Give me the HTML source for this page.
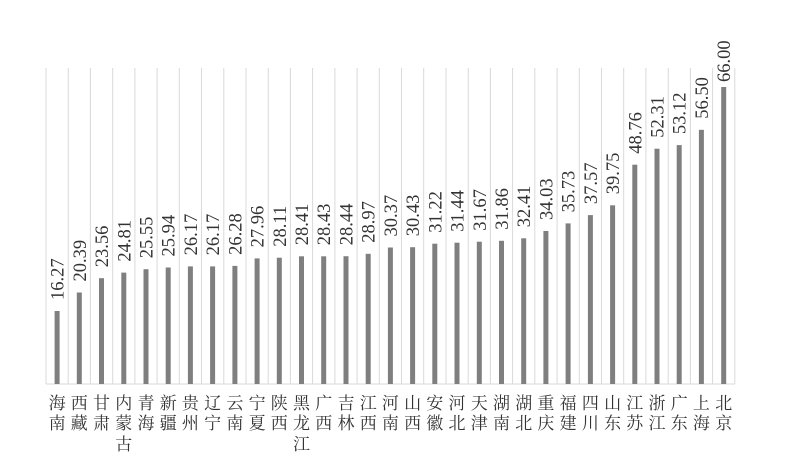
<!DOCTYPE html>
<html><head><meta charset="utf-8"><style>
html,body{margin:0;padding:0;background:#fff;width:785px;height:469px;overflow:hidden}
svg text{font-family:"Liberation Serif","Noto Serif CJK SC",serif;fill:#333}
text.v{font-size:18.5px}
text.c{font-size:17px;text-anchor:middle;font-family:"Liberation Serif","Noto Serif CJK SC","Noto Sans CJK SC",serif}
</style></head><body>
<svg width="785" height="469" xmlns="http://www.w3.org/2000/svg">
<g stroke="#d9d9d9" stroke-width="1">
<line x1="46" y1="68" x2="46" y2="384"/><line x1="68.2" y1="68" x2="68.2" y2="384"/><line x1="90.4" y1="68" x2="90.4" y2="384"/><line x1="112.7" y1="68" x2="112.7" y2="384"/><line x1="134.9" y1="68" x2="134.9" y2="384"/><line x1="157.1" y1="68" x2="157.1" y2="384"/><line x1="179.3" y1="68" x2="179.3" y2="384"/><line x1="201.5" y1="68" x2="201.5" y2="384"/><line x1="223.8" y1="68" x2="223.8" y2="384"/><line x1="246" y1="68" x2="246" y2="384"/><line x1="268.2" y1="68" x2="268.2" y2="384"/><line x1="290.4" y1="68" x2="290.4" y2="384"/><line x1="312.6" y1="68" x2="312.6" y2="384"/><line x1="334.9" y1="68" x2="334.9" y2="384"/><line x1="357.1" y1="68" x2="357.1" y2="384"/><line x1="379.3" y1="68" x2="379.3" y2="384"/><line x1="401.5" y1="68" x2="401.5" y2="384"/><line x1="423.7" y1="68" x2="423.7" y2="384"/><line x1="446" y1="68" x2="446" y2="384"/><line x1="468.2" y1="68" x2="468.2" y2="384"/><line x1="490.4" y1="68" x2="490.4" y2="384"/><line x1="512.6" y1="68" x2="512.6" y2="384"/><line x1="534.8" y1="68" x2="534.8" y2="384"/><line x1="557.1" y1="68" x2="557.1" y2="384"/><line x1="579.3" y1="68" x2="579.3" y2="384"/><line x1="601.5" y1="68" x2="601.5" y2="384"/><line x1="623.7" y1="68" x2="623.7" y2="384"/><line x1="645.9" y1="68" x2="645.9" y2="384"/><line x1="668.2" y1="68" x2="668.2" y2="384"/><line x1="690.4" y1="68" x2="690.4" y2="384"/><line x1="712.6" y1="68" x2="712.6" y2="384"/><line x1="734.8" y1="68" x2="734.8" y2="384"/>
<line x1="46" y1="384" x2="735" y2="384"/>
</g>
<g fill="#7f7f7f">
<rect x="54.6" y="311" width="5" height="73"/><rect x="76.8" y="292.5" width="5" height="91.5"/><rect x="99" y="278.2" width="5" height="105.8"/><rect x="121.3" y="272.6" width="5" height="111.4"/><rect x="143.5" y="269.2" width="5" height="114.8"/><rect x="165.7" y="267.5" width="5" height="116.5"/><rect x="187.9" y="266.4" width="5" height="117.6"/><rect x="210.1" y="266.4" width="5" height="117.6"/><rect x="232.4" y="265.9" width="5" height="118.1"/><rect x="254.6" y="258.4" width="5" height="125.6"/><rect x="276.8" y="257.7" width="5" height="126.3"/><rect x="299" y="256.3" width="5" height="127.7"/><rect x="321.2" y="256.3" width="5" height="127.7"/><rect x="343.5" y="256.2" width="5" height="127.8"/><rect x="365.7" y="253.8" width="5" height="130.2"/><rect x="387.9" y="247.5" width="5" height="136.5"/><rect x="410.1" y="247.2" width="5" height="136.8"/><rect x="432.3" y="243.7" width="5" height="140.3"/><rect x="454.5" y="242.7" width="5" height="141.3"/><rect x="476.8" y="241.7" width="5" height="142.3"/><rect x="499" y="240.8" width="5" height="143.2"/><rect x="521.2" y="238.3" width="5" height="145.7"/><rect x="543.4" y="231" width="5" height="153"/><rect x="565.6" y="223.4" width="5" height="160.6"/><rect x="587.9" y="215.1" width="5" height="168.9"/><rect x="610.1" y="205.3" width="5" height="178.7"/><rect x="632.3" y="164.7" width="5" height="219.3"/><rect x="654.5" y="148.7" width="5" height="235.3"/><rect x="676.7" y="145.1" width="5" height="238.9"/><rect x="698.9" y="129.8" width="5" height="254.2"/><rect x="721.2" y="87" width="5" height="297"/>
</g>
<g>
<text class="v" transform="translate(63.6,300) rotate(-90)">16.27</text>
<text class="v" transform="translate(85.8,281.5) rotate(-90)">20.39</text>
<text class="v" transform="translate(108,267.2) rotate(-90)">23.56</text>
<text class="v" transform="translate(130.3,261.6) rotate(-90)">24.81</text>
<text class="v" transform="translate(152.5,258.2) rotate(-90)">25.55</text>
<text class="v" transform="translate(174.7,256.5) rotate(-90)">25.94</text>
<text class="v" transform="translate(196.9,255.4) rotate(-90)">26.17</text>
<text class="v" transform="translate(219.1,255.4) rotate(-90)">26.17</text>
<text class="v" transform="translate(241.4,254.9) rotate(-90)">26.28</text>
<text class="v" transform="translate(263.6,247.4) rotate(-90)">27.96</text>
<text class="v" transform="translate(285.8,246.7) rotate(-90)">28.11</text>
<text class="v" transform="translate(308,245.3) rotate(-90)">28.41</text>
<text class="v" transform="translate(330.2,245.3) rotate(-90)">28.43</text>
<text class="v" transform="translate(352.5,245.2) rotate(-90)">28.44</text>
<text class="v" transform="translate(374.7,242.8) rotate(-90)">28.97</text>
<text class="v" transform="translate(396.9,236.5) rotate(-90)">30.37</text>
<text class="v" transform="translate(419.1,236.2) rotate(-90)">30.43</text>
<text class="v" transform="translate(441.3,232.7) rotate(-90)">31.22</text>
<text class="v" transform="translate(463.5,231.7) rotate(-90)">31.44</text>
<text class="v" transform="translate(485.8,230.7) rotate(-90)">31.67</text>
<text class="v" transform="translate(508,229.8) rotate(-90)">31.86</text>
<text class="v" transform="translate(530.2,227.3) rotate(-90)">32.41</text>
<text class="v" transform="translate(552.4,220) rotate(-90)">34.03</text>
<text class="v" transform="translate(574.6,212.4) rotate(-90)">35.73</text>
<text class="v" transform="translate(596.9,204.1) rotate(-90)">37.57</text>
<text class="v" transform="translate(619.1,194.3) rotate(-90)">39.75</text>
<text class="v" transform="translate(641.3,153.7) rotate(-90)">48.76</text>
<text class="v" transform="translate(663.5,137.7) rotate(-90)">52.31</text>
<text class="v" transform="translate(685.7,134.1) rotate(-90)">53.12</text>
<text class="v" transform="translate(707.9,118.8) rotate(-90)">56.50</text>
<text class="v" transform="translate(730.2,82) rotate(-90)">66.00</text>
</g>
<g>
<text class="c" x="57.1" y="409">海</text><text class="c" x="57.1" y="429">南</text>
<text class="c" x="79.3" y="409">西</text><text class="c" x="79.3" y="429">藏</text>
<text class="c" x="101.5" y="409">甘</text><text class="c" x="101.5" y="429">肃</text>
<text class="c" x="123.8" y="409">内</text><text class="c" x="123.8" y="429">蒙</text><text class="c" x="123.8" y="450">古</text>
<text class="c" x="146" y="409">青</text><text class="c" x="146" y="429">海</text>
<text class="c" x="168.2" y="409">新</text><text class="c" x="168.2" y="429">疆</text>
<text class="c" x="190.4" y="409">贵</text><text class="c" x="190.4" y="429">州</text>
<text class="c" x="212.6" y="409">辽</text><text class="c" x="212.6" y="429">宁</text>
<text class="c" x="234.9" y="409">云</text><text class="c" x="234.9" y="429">南</text>
<text class="c" x="257.1" y="409">宁</text><text class="c" x="257.1" y="429">夏</text>
<text class="c" x="279.3" y="409">陕</text><text class="c" x="279.3" y="429">西</text>
<text class="c" x="301.5" y="409">黑</text><text class="c" x="301.5" y="429">龙</text><text class="c" x="301.5" y="450">江</text>
<text class="c" x="323.7" y="409">广</text><text class="c" x="323.7" y="429">西</text>
<text class="c" x="346" y="409">吉</text><text class="c" x="346" y="429">林</text>
<text class="c" x="368.2" y="409">江</text><text class="c" x="368.2" y="429">西</text>
<text class="c" x="390.4" y="409">河</text><text class="c" x="390.4" y="429">南</text>
<text class="c" x="412.6" y="409">山</text><text class="c" x="412.6" y="429">西</text>
<text class="c" x="434.8" y="409">安</text><text class="c" x="434.8" y="429">徽</text>
<text class="c" x="457" y="409">河</text><text class="c" x="457" y="429">北</text>
<text class="c" x="479.3" y="409">天</text><text class="c" x="479.3" y="429">津</text>
<text class="c" x="501.5" y="409">湖</text><text class="c" x="501.5" y="429">南</text>
<text class="c" x="523.7" y="409">湖</text><text class="c" x="523.7" y="429">北</text>
<text class="c" x="545.9" y="409">重</text><text class="c" x="545.9" y="429">庆</text>
<text class="c" x="568.1" y="409">福</text><text class="c" x="568.1" y="429">建</text>
<text class="c" x="590.4" y="409">四</text><text class="c" x="590.4" y="429">川</text>
<text class="c" x="612.6" y="409">山</text><text class="c" x="612.6" y="429">东</text>
<text class="c" x="634.8" y="409">江</text><text class="c" x="634.8" y="429">苏</text>
<text class="c" x="657" y="409">浙</text><text class="c" x="657" y="429">江</text>
<text class="c" x="679.2" y="409">广</text><text class="c" x="679.2" y="429">东</text>
<text class="c" x="701.4" y="409">上</text><text class="c" x="701.4" y="429">海</text>
<text class="c" x="723.7" y="409">北</text><text class="c" x="723.7" y="429">京</text>
</g>
</svg>
</body></html>
